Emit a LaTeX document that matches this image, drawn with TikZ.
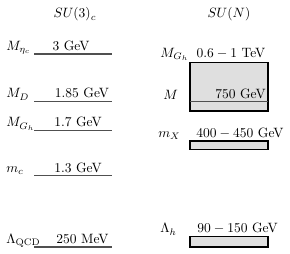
\documentclass[tikz,border=0pt]{standalone}
\usetikzlibrary{positioning}

\begin{document}
\begin{tikzpicture}[x=0.026cm, y=0.026cm]
    % Define colours
    \definecolor{levelColour}{HTML}{505050}
    \definecolor{fillColour}{HTML}{DFDFDF}

    % Define styles
    \tikzset{
        level/.style={draw=levelColour, line width=1pt},
        band/.style={fill=fillColour, draw=black, line width=1pt},
        lab/.style={anchor=base west, inner sep=0pt},
        val/.style={anchor=base, inner sep=0pt}
    }

    % Fix the picture size
    \useasboundingbox (0,0) rectangle (290,253);

    % Column titles
    \node[val] (titleQCD) at (75,235) {$SU(3)_c$};
    \node[val] (titleHid) at (229,235) {$SU(N)$};

    % Draw QCD levels
    \foreach \n/\y/\x/\lab/\val in {etac/199/71/{M_{\eta_c}}/{3 GeV},
                                   D/151.5/82/{M_D}/{1.85 GeV},
                                   Gh/122.5/78/{M_{G_h}}/{1.7 GeV},
                                   c/77.5/78/{m_c}/{1.3 GeV},
                                   QCD/6/82.5/{\Lambda_{\rm QCD}}/{250 MeV}}
    {
        \coordinate (\n L) at (34,\y);
        \coordinate (\n R) at (112,\y);
        \draw[level] (\n L) -- (\n R);
        \node[lab] (\n lab) at (6,\y+3.5) {$\lab$};
        \node[val] (\n val) at (\x,\y+3.5) {\val};
    }

    % Define coordinates of the hidden sector bands
    \coordinate (GhBot) at (190,142);
    \coordinate (GhTop) at (268,190.5);
    \coordinate (ML) at (190,151.5);
    \coordinate (MR) at (268,151.5);
    \coordinate (XBot) at (190,103.5);
    \coordinate (XTop) at (268,112);
    \coordinate (hBot) at (190,6);
    \coordinate (hTop) at (268,16.3);

    % Draw the hidden sector bands
    \draw[band] (GhBot) rectangle (GhTop);
    \draw[level] (ML) -- (MR);
    \draw[band] (XBot) rectangle (XTop);
    \draw[band] (hBot) rectangle (hTop);

    % Label the hidden sector bands
    \node[lab] (Ghlab2) at (160,195.5) {$M_{G_h}$};
    \node[val] (Ghval2) at (231,195.5) {$0.6-1$ TeV};
    \node[lab] (Mlab) at (163,153.5) {$M$};
    \node[val] (Mval) at (240.5,154) {750 GeV};
    \node[lab] (Xlab) at (158,116) {$m_X$};
    \node[val] (Xval) at (240,116) {$400-450$ GeV};
    \node[lab] (hlab) at (160,20) {$\Lambda_h$};
    \node[val] (hval) at (237.5,20) {$90-150$ GeV};

\end{tikzpicture}
\end{document}
